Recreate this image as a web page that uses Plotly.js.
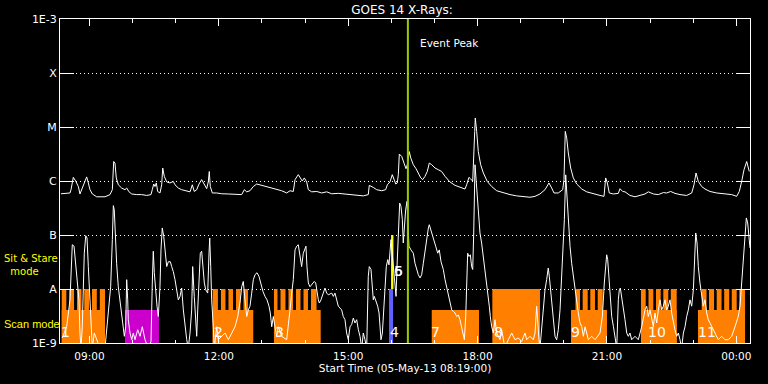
<!DOCTYPE html>
<html><head><meta charset="utf-8">
<script src="https://cdn.plot.ly/plotly-3.0.1.min.js"></script>
<style>html,body{margin:0;padding:0;background:#000;}#chart{width:768px;height:384px;}</style>
</head><body><div id="chart"></div>
<script>
// Times are minutes after the start time 05-May-13 08:19:00
const tickMinutes = [41, 221, 401, 581, 761, 941];
const tickLabels = ['09:00', '12:00', '15:00', '18:00', '21:00', '00:00'];
const hourMinutes = [41, 101, 161, 221, 281, 341, 401, 461, 521, 581, 641, 701, 761, 821, 881, 941];
const fluxLevels = [1e-9, 1e-8, 1e-7, 1e-6, 1e-5, 1e-4, 1e-3];
const levelLabels = ['1E-9', 'A', 'B', 'C', 'M', 'X', '1E-3'];

// GOES 14 long channel (1-8 A)
const longT = [1.4,13.9,15.3,18.5,21.8,25.5,27.8,31.0,34.8,37.1,39.4,41.7,45.0,51.0,62.6,69.6,72.8,74.7,76.5,78.3,81.1,85.8,90.4,92.8,96.0,99.8,106.7,113.7,120.6,126.6,128.4,130.4,132.2,134.0,135.9,139.1,141.5,142.9,145.1,148.5,153.0,157.6,160.0,164.6,169.3,176.3,180.9,184.1,186.8,190.2,193.4,197.1,200.8,204.1,206.3,207.7,209.1,211.9,218.0,225.0,234.2,245.8,252.8,256.4,259.8,264.3,269.0,273.7,280.6,289.8,299.1,308.4,315.4,320.0,324.6,327.0,331.5,333.9,337.1,339.9,343.2,345.5,350.2,357.2,364.1,371.1,378.0,387.2,396.5,405.8,412.8,422.0,428.9,430.3,435.9,440.6,447.6,453.1,455.4,459.1,462.3,465.1,467.1,469.3,470.7,472.1,475.4,478.6,481.4,483.2,484.6,486.0,488.0,491.6,495.3,498.5,501.9,504.6,507.8,511.0,513.8,517.2,521.7,526.3,531.0,535.7,542.6,549.6,556.5,563.5,565.8,569.0,571.4,574.2,577.0,577.8,579.7,582.0,585.3,589.0,594.5,600.6,607.6,616.8,626.1,635.4,644.6,653.9,660.9,667.8,674.8,680.3,684.1,687.3,693.3,699.4,701.2,703.0,705.0,707.2,710.5,714.2,718.9,725.9,732.8,742.0,751.3,756.9,759.2,761.5,764.2,769.8,776.8,779.1,782.9,786.1,793.0,800.0,807.0,813.9,818.5,825.5,832.4,839.4,844.0,849.7,855.6,862.6,871.9,878.9,882.1,884.9,888.1,892.8,897.4,904.3,913.7,925.2,934.5,941.5,945.1,948.4,951.7,955.4,959.0];
const longFlux = [5.8e-7,6.0e-7,6.9e-7,1.17e-6,1.0e-6,7.9e-7,5.75e-7,7.4e-7,1.06e-6,1.19e-6,9.2e-7,6.9e-7,5.75e-7,5.1e-7,5.1e-7,5.6e-7,6.9e-7,2.3e-6,2.15e-6,1.14e-6,8.5e-7,7.4e-7,6.9e-7,7.4e-7,6.3e-7,5.75e-7,5.6e-7,5.6e-7,5.4e-7,5.6e-7,6.9e-7,8.8e-7,7.9e-7,9.2e-7,6.4e-7,6.0e-7,8.5e-7,1.74e-6,1.22e-6,9.6e-7,9.2e-7,9.8e-7,8.5e-7,7.4e-7,6.9e-7,6.4e-7,6.3e-7,8.5e-7,6.4e-7,6.9e-7,8.8e-7,1.06e-6,8.5e-7,7.2e-7,9.6e-7,1.5e-6,7.9e-7,6.0e-7,6.0e-7,5.8e-7,5.75e-7,5.6e-7,5.6e-7,6.9e-7,6.3e-7,6.6e-7,7.9e-7,8.8e-7,8.3e-7,7.6e-7,7.1e-7,6.6e-7,6.0e-7,6.6e-7,6.4e-7,1.06e-6,1.31e-6,1.17e-6,1.0e-6,1.14e-6,9.6e-7,6.9e-7,6.3e-7,6.4e-7,6.0e-7,6.3e-7,5.8e-7,5.9e-7,5.75e-7,5.6e-7,5.4e-7,5.3e-7,5.6e-7,8.3e-7,7.6e-7,6.9e-7,6.6e-7,6.9e-7,8.5e-7,9.6e-7,1.31e-6,1.06e-6,8.8e-7,9.2e-7,1.31e-6,3.16e-6,2.85e-6,2.15e-6,1.69e-6,2.0e-6,2.85e-6,3.5e-6,2.67e-6,2.0e-6,1.69e-6,1.41e-6,1.14e-6,1.06e-6,1.22e-6,1.5e-6,2.15e-6,2.0e-6,1.74e-6,1.62e-6,1.5e-6,1.22e-6,9.6e-7,8.3e-7,7.6e-7,7.1e-7,8.5e-7,1.17e-6,1.09e-6,1.0e-6,8.3e-6,1.47e-5,8.3e-6,3.5e-6,2.0e-6,1.41e-6,9.8e-7,7.9e-7,6.6e-7,6.0e-7,5.6e-7,5.3e-7,5.2e-7,5.0e-7,5.2e-7,5.75e-7,6.9e-7,9.2e-7,7.4e-7,6.0e-7,6.0e-7,6.9e-7,1.06e-6,8.3e-6,6.2e-6,3.3e-6,1.74e-6,1.14e-6,8.8e-7,7.1e-7,6.3e-7,5.75e-7,5.4e-7,5.2e-7,1.14e-6,9.2e-7,6.0e-7,5.75e-7,5.9e-7,7.2e-7,6.4e-7,6.3e-7,5.4e-7,5.1e-7,5.4e-7,5.75e-7,6.3e-7,5.75e-7,5.6e-7,6.1e-7,6.0e-7,6.4e-7,5.9e-7,5.6e-7,5.4e-7,6.0e-7,8.5e-7,1.41e-6,9.8e-7,7.9e-7,7.1e-7,6.4e-7,6.0e-7,5.75e-7,5.6e-7,5.2e-7,6.4e-7,9.8e-7,1.62e-6,2.3e-6,1.5e-6];

// GOES 14 short channel (0.5-4 A); values below 1E-9 fall off the plot
const shortT = [3.2,9.3,13.9,15.3,17.1,19.5,21.8,24.6,26.4,27.8,29.2,31.0,32.4,33.8,35.8,37.6,39.4,41.3,43.1,45.0,47.7,51.0,55.7,62.6,67.2,70.5,72.8,74.2,75.5,76.9,78.8,81.1,83.5,85.8,88.1,89.5,91.4,92.8,94.2,95.0,97.4,99.8,102.0,104.3,108.1,111.3,114.5,118.3,122.9,126.6,128.4,129.8,131.2,133.1,135.0,136.8,139.1,140.5,142.3,144.3,146.1,148.5,150.7,153.5,155.4,157.6,160.0,162.3,164.6,167.0,169.3,171.6,173.9,176.3,178.5,180.9,183.2,184.6,186.8,188.8,190.2,191.6,193.4,195.2,197.1,199.0,200.8,202.7,205.5,207.3,208.3,209.7,211.0,213.3,214.7,218.0,220.2,225.0,229.6,234.2,238.9,243.5,247.3,249.0,250.9,252.8,255.0,257.4,259.8,262.0,264.3,266.7,269.0,271.3,274.1,276.9,279.7,282.4,285.2,288.0,290.8,292.6,294.6,296.8,299.1,301.5,303.7,308.4,315.4,317.7,320.0,322.4,324.6,327.0,329.3,331.5,333.9,336.2,338.5,340.9,342.2,343.6,345.5,347.8,350.2,353.8,355.8,357.2,359.4,360.8,363.1,366.3,368.7,371.1,373.3,378.0,380.3,382.6,385.0,387.2,391.9,394.1,396.5,398.8,401.1,403.5,405.8,408.1,410.4,412.8,415.1,417.4,419.8,422.0,424.3,426.7,428.9,430.3,432.7,434.5,435.9,437.3,439.2,442.0,443.9,445.3,446.6,448.5,450.3,452.2,454.0,456.0,457.7,460.5,462.3,465.1,467.5,468.9,470.7,472.6,474.4,476.3,477.6,479.0,480.9,482.8,485.5,488.3,491.6,493.9,496.2,498.5,500.9,503.2,505.5,507.8,510.2,512.5,513.8,516.2,519.4,522.7,525.5,527.7,530.1,533.3,535.7,538.0,540.4,542.6,545.0,547.3,549.6,551.9,554.2,556.5,558.8,561.2,562.6,564.5,565.8,567.2,569.0,570.9,572.7,574.2,575.6,577.4,582.0,584.3,586.6,589.0,591.3,592.7,594.1,595.9,597.3,598.7,600.6,602.9,605.2,607.6,609.8,612.2,614.5,616.8,619.1,623.7,628.4,633.0,637.6,642.3,647.0,649.3,653.9,658.5,660.9,663.2,664.6,666.4,667.8,670.1,672.4,674.8,677.1,679.3,680.8,682.2,684.1,686.4,688.7,691.0,693.3,695.7,698.0,700.3,701.7,703.6,707.2,709.6,711.9,714.2,716.6,718.9,721.1,723.5,725.9,728.2,730.5,732.8,735.1,739.8,744.4,751.3,754.6,757.3,759.2,760.6,762.0,763.8,765.7,767.6,770.0,772.2,774.6,776.8,778.2,779.6,781.5,783.8,786.1,788.5,790.7,793.0,795.4,800.0,804.6,809.3,811.6,813.9,816.3,818.5,820.9,823.2,825.5,827.8,830.2,832.4,834.8,837.1,839.4,841.7,844.0,846.3,848.7,851.0,853.3,855.6,858.0,860.3,862.6,864.9,867.3,869.6,871.9,874.2,876.5,878.9,881.2,883.5,884.5,886.3,888.1,890.4,892.8,895.0,897.4,899.7,902.0,906.7,911.3,915.9,920.6,925.2,929.8,934.5,939.1,943.7,946.1,948.4,950.7,953.1,954.9,956.8,958.6,960.0];
const shortFlux = [1.24e-9,2.0e-9,6.3e-9,1.7e-8,6.6e-8,6.2e-8,3.0e-8,1.49e-8,6.3e-9,1.53e-9,8e-10,2.0e-9,1.1e-8,4.6e-8,9.7e-8,8.8e-8,2.6e-8,7.3e-9,2.0e-9,8e-10,1.53e-9,1.15e-9,8e-10,8e-10,4.1e-9,1.1e-8,8.2e-8,3.5e-7,2.9e-7,8.2e-8,3.0e-8,1.1e-8,6.3e-9,3.6e-9,2.0e-9,1.33e-9,2.0e-9,1.49e-8,6.3e-9,2.7e-9,1.53e-9,1.15e-9,1.53e-9,1.15e-9,1.76e-9,1.33e-9,2.0e-9,1.15e-9,8e-10,1.07e-9,1.29e-8,5.0e-8,2.0e-8,8.4e-9,4.8e-9,3.1e-9,1.1e-8,5.3e-8,1.35e-7,9.4e-8,5.3e-8,2.6e-8,3.2e-8,3.2e-8,2.6e-8,2.1e-8,1.49e-8,9.7e-9,6.3e-9,7.3e-9,1.04e-8,4.1e-9,2.0e-9,1.15e-9,8e-10,1.53e-9,4.1e-9,2.6e-8,7.3e-9,2.0e-9,1.33e-9,4.1e-9,1.29e-8,4.6e-8,5.0e-8,2.6e-8,1.29e-8,9.7e-9,8.4e-9,4.6e-8,8.8e-8,2.6e-8,6.3e-9,2.0e-9,8e-10,2.0e-9,1.15e-9,1.33e-9,1.53e-9,1.15e-9,1.53e-9,2.0e-9,3.1e-9,4.1e-9,6.3e-9,1.1e-8,1.38e-8,6.3e-9,3.1e-9,4.1e-9,4.8e-9,8.4e-9,1.49e-8,1.84e-8,2.0e-8,1.7e-8,1.2e-8,9.0e-9,7.3e-9,6.3e-9,4.8e-9,3.6e-9,2.0e-9,3.1e-9,2.0e-9,1.33e-9,2.0e-9,1.33e-9,1.15e-9,2.0e-9,4.1e-9,8.4e-9,1.49e-8,5.3e-8,6.2e-8,6.6e-8,4.0e-8,2.6e-8,4.6e-8,5.75e-8,6.2e-8,2.6e-8,1.29e-8,1.1e-8,1.2e-8,1.38e-8,1.29e-8,9.0e-9,6.3e-9,5.5e-9,6.3e-9,8.4e-9,1.04e-8,8.4e-9,7.8e-9,8.4e-9,7.3e-9,8.4e-9,6.3e-9,4.8e-9,4.1e-9,3.1e-9,2.7e-9,1.53e-9,1.15e-9,2.0e-9,2.2e-9,2.9e-9,2.35e-9,2.7e-9,1.76e-9,1.33e-9,8e-10,1.53e-9,1.15e-9,8e-10,1.7e-8,2.6e-8,2.3e-8,1.1e-8,6.3e-9,7.3e-9,6.3e-9,4.8e-9,3.6e-9,2.0e-9,1.15e-9,1.53e-9,4.1e-9,1.29e-8,2.6e-8,3.5e-8,2.8e-8,8.2e-8,4.6e-8,1.7e-8,7.3e-9,2.6e-8,1.09e-7,3.9e-7,3.4e-7,1.92e-7,7.1e-8,1.44e-7,2.9e-7,4.2e-7,6.2e-8,5.3e-8,4.6e-8,3.0e-8,2.3e-8,1.84e-8,1.6e-8,1.84e-8,3.0e-8,5.3e-8,9.4e-8,1.35e-7,1.55e-7,1.17e-7,8.2e-8,6.2e-8,4.6e-8,5.3e-8,3.2e-8,2.3e-8,1.49e-8,1.1e-8,8.4e-9,6.3e-9,4.1e-9,3.85e-9,3.6e-9,3.1e-9,3.3e-9,2.7e-9,2.0e-9,1.53e-9,1.15e-9,3.1e-9,2.0e-8,4.6e-8,4.0e-8,4.3e-8,2.6e-8,2.3e-8,1.09e-7,2.0e-6,2.9e-7,1.09e-7,7.1e-8,4.0e-8,2.6e-8,1.7e-8,1.1e-8,7.3e-9,4.8e-9,3.1e-9,2.0e-9,1.53e-9,2.7e-9,1.53e-9,1.33e-9,1.15e-9,1.76e-9,1.15e-9,8e-10,1.15e-9,1.53e-9,1.15e-9,1.24e-9,1.07e-9,1.53e-9,1.15e-9,1.33e-9,1.15e-9,1.53e-9,4.8e-9,2.0e-9,1.15e-9,8e-10,2.0e-9,4.8e-9,9.7e-9,1.49e-8,2.45e-8,1.7e-8,1.1e-8,4.8e-9,2.35e-9,1.33e-9,1.15e-9,1.76e-9,4.1e-9,1.49e-8,5.3e-8,1.92e-7,1.3e-6,1.44e-7,6.2e-8,3.0e-8,1.7e-8,1.1e-8,6.3e-9,3.6e-9,2.35e-9,2.0e-9,1.33e-9,2.0e-9,1.53e-9,1.15e-9,1.33e-9,1.15e-9,1.53e-9,3.1e-9,1.29e-8,2.6e-8,4.3e-8,3.5e-8,1.49e-8,6.3e-9,3.1e-9,2.0e-9,1.15e-9,8e-10,6.3e-9,9.7e-9,1.04e-8,7.3e-9,4.8e-9,2.7e-9,1.53e-9,1.33e-9,1.53e-9,1.15e-9,1.33e-9,1.15e-9,2.0e-9,3.1e-9,4.1e-9,4.8e-9,3.1e-9,4.1e-9,2.7e-9,2.0e-9,3.6e-9,2.35e-9,4.1e-9,6.3e-9,4.1e-9,4.8e-9,6.3e-9,4.1e-9,4.8e-9,6.3e-9,3.6e-9,2.35e-9,1.76e-9,1.33e-9,1.53e-9,1.15e-9,8e-10,1.53e-9,2.0e-9,3.1e-9,4.1e-9,6.3e-9,4.8e-9,9.7e-9,5.3e-8,1.09e-7,7.1e-8,2.6e-8,1.29e-8,7.3e-9,4.8e-9,6.3e-9,3.6e-9,2.7e-9,2.0e-9,1.53e-9,1.15e-9,1.33e-9,1.15e-9,1.15e-9,1.33e-9,2.0e-9,3.1e-9,4.8e-9,1.29e-8,2.6e-8,1.09e-7,2.07e-7,1.67e-7,9.4e-8,5.75e-8];

// Observation blocks (minutes after start)
const scanLevel = 4.1e-9, stareLevel = 1e-8, stareTop = 1e-7;
const scanStart = [2.4, 212.4, 297.7, 517.2, 711.0, 808.3, 887.6];
const scanEnd   = [62.6, 268.9, 362.7, 583.0, 761.0, 858.0, 953.0];
const stareStart = [2.4,12.9,23.7,33.8,44.5,55.4, 212.4,223.9,234.4,244.9,255.3, 297.7,306.8,317.9,328.3,338.8,349.2, 601.5, 717.2,727.2,737.8,748.1, 808.3,818.8,829.2,839.4,849.8, 892.8,903.0,913.7,924.1,934.6,945.1];
const stareEnd   = [8.8,19.5,29.9,40.3,51.2,62.6, 219.7,230.2,240.7,251.1,261.5, 302.6,313.7,324.2,334.6,345.0,356.9, 667.8, 723.5,734.2,744.3,755.1, 814.9,825.5,835.7,846.3,858.0, 899.5,910.0,920.4,931.1,941.5,953.0];
const otherStart = [90.4], otherEnd = [137.7];          // magenta block
const blueStart = [457.7], blueEnd = [463.3];
const yellowStart = [460.6], yellowEnd = [463.9];
const eventPeak = 484;
const obsLabels = ['1','2','3','4','5','6','7','8','9','10','11'];
const obsLabelT = [8.3, 220.2, 305.1, 464.9, 470.3, 470.3, 523.1, 609.8, 717.2, 830.2, 900.8];
const obsLabelFlux = [1.58e-9,1.58e-9,1.58e-9,1.58e-9,2.12e-8,2.12e-8,1.58e-9,1.58e-9,1.58e-9,1.58e-9,1.58e-9];

function rects(starts, ends, lo, hi) {
  const x = [], y = [];
  starts.forEach((s, i) => {
    const e = ends[i];
    x.push(s, s, e, e, s, null);
    y.push(lo, hi, hi, lo, lo, null);
  });
  return {x, y};
}
function box(starts, ends, lo, hi, color) {
  const r = rects(starts, ends, lo, hi);
  return {type: 'scatter', mode: 'lines', x: r.x, y: r.y, fill: 'toself', fillcolor: color,
    line: {width: 0, color: color}, hoverinfo: 'skip', showlegend: false};
}
const ORANGE = '#ff8000';
const traces = [
  box(scanStart, scanEnd, 1e-9, scanLevel, ORANGE),
  box(stareStart, stareEnd, 1e-9, stareLevel, ORANGE),
  box(otherStart, otherEnd, 1e-9, scanLevel, '#cc00cc'),
  box(blueStart, blueEnd, 1e-9, stareLevel, '#6060ff'),
  box(yellowStart, yellowEnd, stareLevel, stareTop, '#ffff00'),
  {type: 'scatter', mode: 'lines', x: shortT, y: shortFlux, line: {color: '#ffffff', width: 1}, showlegend: false},
  {type: 'scatter', mode: 'lines', x: longT, y: longFlux, line: {color: '#ffffff', width: 1}, showlegend: false},
  {type: 'scatter', mode: 'lines', x: [eventPeak, eventPeak], y: [1e-9, 1e-3], line: {color: '#99cc00', width: 2}, showlegend: false}
];

const FONT = 'DejaVu Sans, sans-serif';
const annotations = obsLabels.map((t, i) => ({
  x: obsLabelT[i], y: Math.log10(obsLabelFlux[i]), xref: 'x', yref: 'y', text: t, showarrow: false,
  font: {family: FONT, size: 14, color: '#ffffff'}, xanchor: 'center', yanchor: 'middle'
}));
annotations.push(
  {xref: 'paper', yref: 'paper', x: (418 - 60) / 690, y: (343.3 - 43) / 324, text: 'Event Peak', showarrow: false,
   xanchor: 'left', yanchor: 'middle', font: {family: FONT, size: 10.5, color: '#ffffff'}},
  {xref: 'paper', yref: 'paper', x: -58 / 690, y: (343.3 - 265) / 324, text: 'Sit & Stare<br>\u00a0\u00a0mode', showarrow: false,
   xanchor: 'left', yanchor: 'middle', align: 'left', font: {family: FONT, size: 10, color: '#ffff00'}},
  {xref: 'paper', yref: 'paper', x: -58 / 690, y: (343.3 - 324) / 324, text: 'Scan mode', showarrow: false,
   xanchor: 'left', yanchor: 'middle', font: {family: 'Liberation Sans, Arial, sans-serif', size: 11, color: '#ffff00'}}
);

const layout = {
  width: 768, height: 384,
  paper_bgcolor: '#000000', plot_bgcolor: '#000000',
  margin: {l: 60, r: 18, t: 19, b: 41, pad: 0},
  font: {family: FONT, color: '#ffffff', size: 10},
  showlegend: false,
  title: {text: 'GOES 14 X-Rays:', xref: 'container', x: 402 / 768, xanchor: 'center',
          yref: 'container', y: 1 - 10 / 384, yanchor: 'middle', font: {family: FONT, size: 12, color: '#ffffff'}},
  xaxis: {
    range: [0, 960], tickmode: 'array', tickvals: tickMinutes, ticktext: tickLabels,
    ticks: 'inside', ticklen: 7, tickcolor: '#ffffff', tickwidth: 1,
    minor: {tickmode: 'array', tickvals: hourMinutes, ticks: 'inside', ticklen: 3.5, tickcolor: '#ffffff', showgrid: false},
    showline: true, linecolor: '#ffffff', linewidth: 1, mirror: 'ticks',
    showgrid: false, zeroline: false, fixedrange: true,
    ticklabelstandoff: 3,
    tickfont: {family: FONT, size: 10.5, color: '#ffffff'},
    title: {text: 'Start Time (05-May-13 08:19:00)', standoff: 3, font: {family: FONT, size: 10.5, color: '#ffffff'}},
    automargin: false
  },
  yaxis: {
    type: 'log', range: [-9, -3], tickmode: 'array', tickvals: fluxLevels, ticktext: levelLabels,
    ticks: 'inside', ticklen: 14, tickcolor: '#ffffff', tickwidth: 1,
    showline: true, linecolor: '#ffffff', linewidth: 1, mirror: 'ticks',
    showgrid: true, gridcolor: '#ffffff', gridwidth: 1, griddash: '1px,3px', zeroline: false,
    tickfont: {family: FONT, size: 11, color: '#ffffff'}, automargin: false, fixedrange: true
  },
  annotations: annotations
};
Plotly.newPlot('chart', traces, layout, {staticPlot: true, displayModeBar: false});
</script></body></html>
